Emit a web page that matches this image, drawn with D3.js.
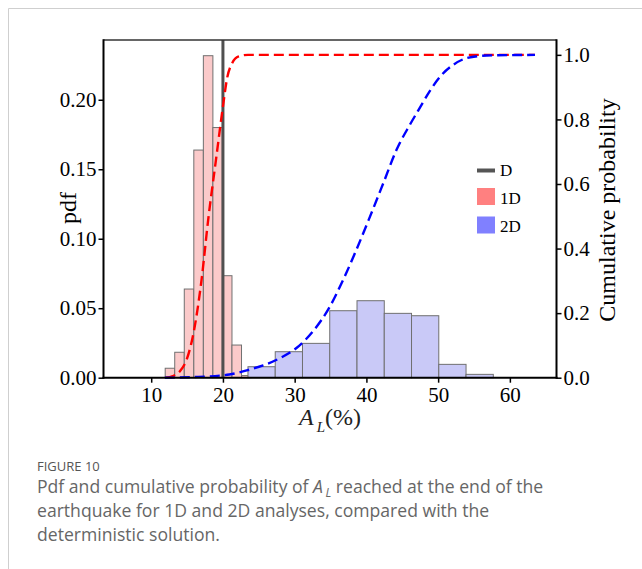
<!DOCTYPE html>
<html><head><meta charset="utf-8">
<script src="https://cdn.jsdelivr.net/npm/d3@7"></script>
<style>body{margin:0;background:#fff;}svg{display:block;}</style>
</head><body>
<svg id="chart" width="642" height="569"></svg>
<script>
// ---- data ----
const xTicks = [10, 20, 30, 40, 50, 60];
const pdfTicks = [0.00, 0.05, 0.10, 0.15, 0.20];
const cdfTicks = [0.0, 0.2, 0.4, 0.6, 0.8, 1.0];
const deterministicAL = 20;
const edges1D = [11.95, 13.28, 14.61, 15.94, 17.27, 18.60, 19.93, 21.26, 22.59, 23.92];
const pdf1D = [0.0068, 0.0183, 0.0638, 0.1638, 0.2317, 0.1800, 0.0734, 0.0235, 0.0015];
const edges2D = [23.49, 27.29, 31.09, 34.89, 38.69, 42.49, 46.29, 50.09, 53.89, 57.69];
const pdf2D = [0.0079, 0.0187, 0.0247, 0.0482, 0.0554, 0.0463, 0.0446, 0.0096, 0.0024];
const cdf1D_x = [12.0, 13.0, 14.0, 15.0, 16.0, 17.0, 18.0, 19.0, 20.0, 20.6, 21.3, 22.2, 23.5, 63.5];
const cdf1D_y = [0.0, 0.005, 0.02, 0.06, 0.15, 0.30, 0.50, 0.67, 0.84, 0.93, 0.975, 0.995, 1.0, 1.0];
const cdf2D_x = [11.9, 16.0, 20.9, 23.7, 25.6, 27.9, 30.25, 32.6, 34.9, 36.8, 38.6, 40.5, 42.35, 44.2, 46.1, 47.5, 48.9, 50.3, 52.1, 54.0, 56.8, 59.6, 63.5];
const cdf2D_y = [0.0, 0.002, 0.010, 0.025, 0.038, 0.060, 0.092, 0.145, 0.220, 0.305, 0.396, 0.499, 0.602, 0.706, 0.785, 0.838, 0.890, 0.933, 0.969, 0.990, 0.998, 0.999, 1.0];
const legendLabels = ["D", "1D", "2D"];

// ---- layout ----
const svg = d3.select("#chart");
const L = 103.5, R = 556.5, T = 40, B = 377.7;
const serif = "'Liberation Serif','Times New Roman',serif";

// card border
svg.append("path").attr("d", "M8.5,569 V8.5 H642").attr("fill", "none").attr("stroke", "#cfcfcf").attr("stroke-width", 1);

const x = d3.scaleLinear().domain([3.35, 66.5]).range([L, R]);
const yL = d3.scaleLinear().domain([0, 0.243]).range([B, T]);
const yR = d3.scaleLinear().domain([0, 1.046]).range([B, T]);

const g = svg.append("g");

function bars(edges, vals, fill) {
  g.append("g").selectAll("rect").data(vals).join("rect")
    .attr("x", (d, i) => x(edges[i]))
    .attr("width", (d, i) => x(edges[i + 1]) - x(edges[i]))
    .attr("y", d => yL(d))
    .attr("height", d => B - yL(d))
    .attr("fill", fill)
    .attr("stroke", "#707070")
    .attr("stroke-width", 1);
}
bars(edges1D, pdf1D, "#fbcaca");
bars(edges2D, pdf2D, "#c9c9f7");

// deterministic line
g.append("line").attr("x1", x(deterministicAL)).attr("x2", x(deterministicAL))
  .attr("y1", B).attr("y2", T).attr("stroke", "#505050").attr("stroke-width", 3);

// CDF curves
const line = d3.line().x(d => x(d[0])).y(d => yR(d[1])).curve(d3.curveMonotoneX);
g.append("path").datum(cdf1D_x.map((v, i) => [v, cdf1D_y[i]]))
  .attr("d", line).attr("fill", "none").attr("stroke", "#ff0000")
  .attr("stroke-width", 2.4).attr("stroke-dasharray", "10,5");
g.append("path").datum(cdf2D_x.map((v, i) => [v, cdf2D_y[i]]))
  .attr("d", line).attr("fill", "none").attr("stroke", "#0000ff")
  .attr("stroke-width", 2.4).attr("stroke-dasharray", "10,5");

// axes
function styleAxis(sel) {
  sel.selectAll("text").attr("font-family", serif).attr("font-size", 21).attr("fill", "#000");
  sel.selectAll(".tick line").attr("stroke", "#000").attr("stroke-width", 1.5);
  sel.select(".domain").remove();
}
svg.append("g").attr("transform", `translate(0,${B})`)
  .call(d3.axisBottom(x).tickValues(xTicks).tickFormat(d3.format("d")).tickSize(5).tickPadding(4))
  .call(styleAxis);
svg.append("g").attr("transform", `translate(${L},0)`)
  .call(d3.axisLeft(yL).tickValues(pdfTicks).tickFormat(d3.format(".2f")).tickSize(5).tickPadding(2))
  .call(styleAxis);
svg.append("g").attr("transform", `translate(${R},0)`)
  .call(d3.axisRight(yR).tickValues(cdfTicks).tickFormat(d3.format(".1f")).tickSize(5).tickPadding(2))
  .call(styleAxis);

// spines
svg.append("line").attr("x1", L).attr("x2", R).attr("y1", T).attr("y2", T).attr("stroke", "#333").attr("stroke-width", 1.5);
svg.append("line").attr("x1", L).attr("x2", L).attr("y1", T - 0.75).attr("y2", B + 1).attr("stroke", "#000").attr("stroke-width", 2);
svg.append("line").attr("x1", R).attr("x2", R).attr("y1", T - 0.75).attr("y2", B + 1).attr("stroke", "#000").attr("stroke-width", 2);
svg.append("line").attr("x1", L - 1).attr("x2", R + 1).attr("y1", B).attr("y2", B).attr("stroke", "#000").attr("stroke-width", 2);

// axis labels
svg.append("text").attr("transform", "translate(76,208) rotate(-90)")
  .attr("text-anchor", "middle").attr("font-family", serif).attr("font-size", 24).text("pdf");
svg.append("text").attr("transform", "translate(615,210) rotate(-90)")
  .attr("text-anchor", "middle").attr("font-family", serif).attr("font-size", 24).text("Cumulative probability");
const xl = svg.append("text").attr("x", (L + R) / 2).attr("y", 425).attr("text-anchor", "middle")
  .attr("font-family", serif).attr("font-size", 24).attr("fill", "#222");
xl.append("tspan").attr("font-style", "italic").text("A");
xl.append("tspan").attr("font-style", "italic").attr("font-size", 15).attr("dy", 7).attr("dx", 3).text("L");
xl.append("tspan").attr("dy", -7).text("(%)");

// legend
const lg = svg.append("g").attr("font-family", serif).attr("font-size", 17);
lg.append("line").attr("x1", 477).attr("x2", 495).attr("y1", 170.5).attr("y2", 170.5).attr("stroke", "#555").attr("stroke-width", 4);
lg.append("rect").attr("x", 477).attr("y", 188).attr("width", 18).attr("height", 17).attr("fill", "#ff8080");
lg.append("rect").attr("x", 477).attr("y", 216.5).attr("width", 18).attr("height", 17).attr("fill", "#8080ff");
legendLabels.forEach((t, i) => {
  lg.append("text").attr("x", 500).attr("y", [176, 203.5, 231.5][i]).text(t);
});

// caption
const sans = "'Open Sans','Noto Sans',sans-serif";
svg.append("text").attr("x", 37).attr("y", 471).attr("font-family", sans).attr("font-size", 13)
  .attr("fill", "#555").text("FIGURE 10");
const cap = svg.append("g").attr("font-family", sans).attr("font-size", 17.6).attr("fill", "#666");
const l1 = cap.append("text").attr("x", 37).attr("y", 493);
l1.append("tspan").text("Pdf and cumulative probability of ");
l1.append("tspan").attr("font-style", "italic").text("A");
l1.append("tspan").attr("font-style", "italic").attr("font-size", 12).attr("dy", 4).attr("dx", 2.5).text("L");
l1.append("tspan").attr("dy", -4).text(" reached at the end of the");
cap.append("text").attr("x", 37).attr("y", 517).text("earthquake for 1D and 2D analyses, compared with the");
cap.append("text").attr("x", 37).attr("y", 541).text("deterministic solution.");
</script>
</body></html>
